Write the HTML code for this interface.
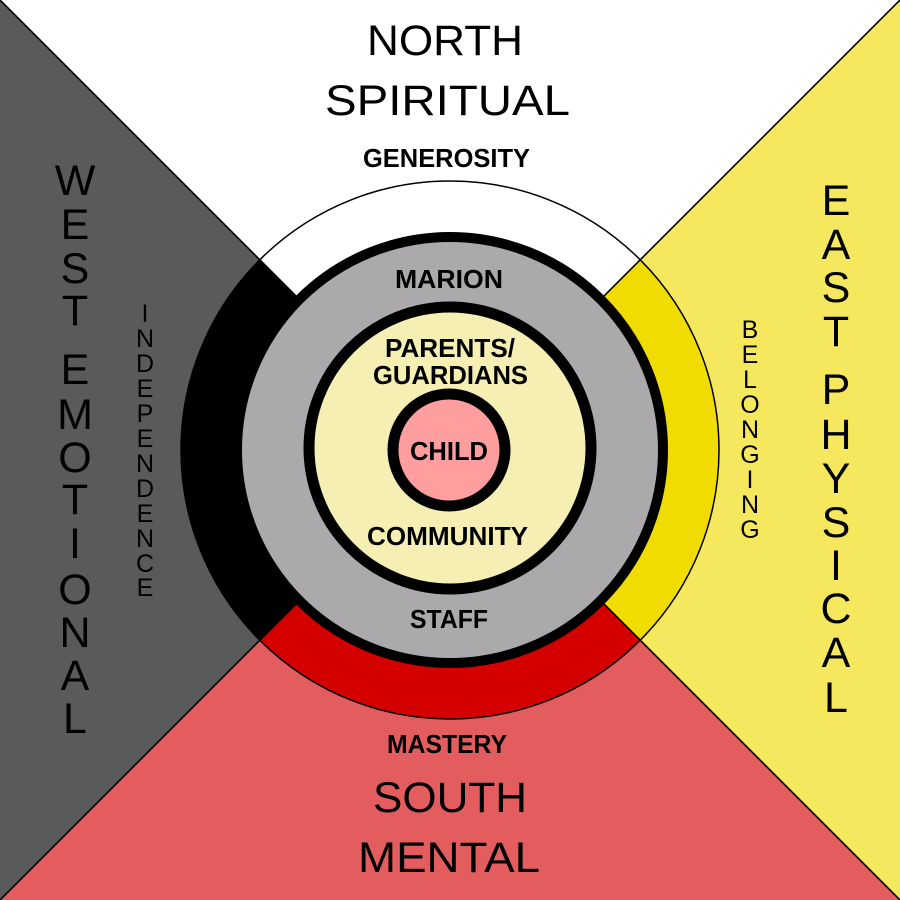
<!DOCTYPE html>
<html>
<head>
<meta charset="utf-8">
<style>
  html, body { margin: 0; padding: 0; background: #ffffff; }
  svg { display: block; }
  text { font-family: "Liberation Sans", "DejaVu Sans", sans-serif; fill: #000; }
  .big { font-size: 43px; }
  .mid { font-size: 26px; }
  .lbl { font-size: 26px; font-weight: bold; }
</style>
</head>
<body>
<svg width="900" height="900" viewBox="0 0 900 900" xmlns="http://www.w3.org/2000/svg">
  <!-- quadrant triangles -->
  <polygon points="0,0 900,0 450,450" fill="#ffffff"/>
  <polygon points="900,0 900,900 450,450" fill="#f5e85e"/>
  <polygon points="900,900 0,900 450,450" fill="#e35d5e"/>
  <polygon points="0,900 0,0 450,450" fill="#5a5a5a"/>

  <!-- outer ring sectors -->
  <path d="M450,450 L259.8,259.8 A269,269 0 0 1 640.2,259.8 Z" fill="#ffffff"/>
  <path d="M450,450 L640.2,259.8 A269,269 0 0 1 640.2,640.2 Z" fill="#f0dc00"/>
  <path d="M450,450 L640.2,640.2 A269,269 0 0 1 259.8,640.2 Z" fill="#d40000"/>
  <path d="M450,450 L259.8,640.2 A269,269 0 0 1 259.8,259.8 Z" fill="#000000"/>
  <circle cx="450" cy="450" r="269" fill="none" stroke="#000" stroke-width="1.5"/>

  <!-- diagonals -->
  <line x1="0" y1="0" x2="900" y2="900" stroke="#000" stroke-width="1.6"/>
  <line x1="900" y1="0" x2="0" y2="900" stroke="#000" stroke-width="1.6"/>

  <!-- gray circle -->
  <circle cx="450" cy="450" r="213" fill="#aba9ab" stroke="#000" stroke-width="10"/>
  <!-- cream circle -->
  <circle cx="450" cy="448" r="141" fill="#f5efb3" stroke="#000" stroke-width="11"/>
  <!-- child circle -->
  <circle cx="449" cy="450" r="56" fill="#fe9e9e" stroke="#000" stroke-width="11"/>

  <!-- North -->
  <text class="big" x="367" y="55" textLength="156" lengthAdjust="spacingAndGlyphs">NORTH</text>
  <text class="big" x="325" y="115" textLength="245" lengthAdjust="spacingAndGlyphs">SPIRITUAL</text>
  <text class="mid" x="363" y="167" textLength="167" lengthAdjust="spacingAndGlyphs" font-weight="bold">GENEROSITY</text>

  <!-- South -->
  <text class="mid" x="387" y="753" textLength="120" lengthAdjust="spacingAndGlyphs" font-weight="bold">MASTERY</text>
  <text class="big" x="373" y="812" textLength="154" lengthAdjust="spacingAndGlyphs">SOUTH</text>
  <text class="big" x="358" y="872" textLength="182" lengthAdjust="spacingAndGlyphs">MENTAL</text>

  <!-- center labels -->
  <text class="lbl" x="395" y="288" textLength="108" lengthAdjust="spacingAndGlyphs">MARION</text>
  <text class="lbl" x="385" y="357" textLength="130" lengthAdjust="spacingAndGlyphs">PARENTS/</text>
  <text class="lbl" x="373" y="384" textLength="155" lengthAdjust="spacingAndGlyphs">GUARDIANS</text>
  <text class="lbl" x="410" y="460" textLength="78" lengthAdjust="spacingAndGlyphs">CHILD</text>
  <text class="lbl" x="367" y="545" textLength="161" lengthAdjust="spacingAndGlyphs">COMMUNITY</text>
  <text class="lbl" x="410" y="628" textLength="78" lengthAdjust="spacingAndGlyphs">STAFF</text>

  <!-- West Emotional -->
  <g class="big" text-anchor="middle">
    <text class="big" x="75" y="195">W</text>
    <text class="big" x="75" y="239">E</text>
    <text class="big" x="75" y="283">S</text>
    <text class="big" x="75" y="325">T</text>
    <text class="big" x="75" y="384">E</text>
    <text class="big" x="75" y="429">M</text>
    <text class="big" x="75" y="472">O</text>
    <text class="big" x="75" y="514">T</text>
    <text class="big" x="75" y="558">I</text>
    <text class="big" x="75" y="604">O</text>
    <text class="big" x="75" y="647">N</text>
    <text class="big" x="75" y="690">A</text>
    <text class="big" x="75" y="733">L</text>
  </g>

  <!-- Independence -->
  <g text-anchor="middle" font-size="25">
    <text x="145" y="322">I</text>
    <text x="145" y="347">N</text>
    <text x="145" y="372">D</text>
    <text x="145" y="397">E</text>
    <text x="145" y="422">P</text>
    <text x="145" y="447">E</text>
    <text x="145" y="472">N</text>
    <text x="145" y="497">D</text>
    <text x="145" y="522">E</text>
    <text x="145" y="547">N</text>
    <text x="145" y="572">C</text>
    <text x="145" y="596">E</text>
  </g>

  <!-- East Physical -->
  <g text-anchor="middle">
    <text class="big" x="836" y="215">E</text>
    <text class="big" x="836" y="259">A</text>
    <text class="big" x="836" y="302">S</text>
    <text class="big" x="836" y="346">T</text>
    <text class="big" x="836" y="404">P</text>
    <text class="big" x="836" y="449">H</text>
    <text class="big" x="836" y="493">Y</text>
    <text class="big" x="836" y="537">S</text>
    <text class="big" x="836" y="580">I</text>
    <text class="big" x="836" y="623">C</text>
    <text class="big" x="836" y="667">A</text>
    <text class="big" x="836" y="712">L</text>
  </g>

  <!-- Belonging -->
  <g text-anchor="middle" font-size="25">
    <text x="750" y="338">B</text>
    <text x="750" y="363">E</text>
    <text x="750" y="388">L</text>
    <text x="750" y="413">O</text>
    <text x="750" y="438">N</text>
    <text x="750" y="463">G</text>
    <text x="750" y="488">I</text>
    <text x="750" y="513">N</text>
    <text x="750" y="538">G</text>
  </g>
</svg>
</body>
</html>
